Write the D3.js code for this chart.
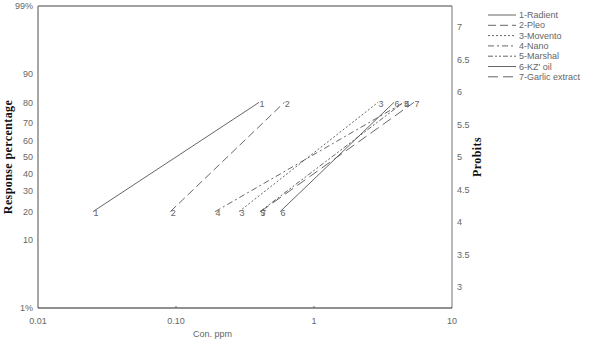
<!DOCTYPE html>
<html>
<head>
<meta charset="utf-8">
<script src="https://cdn.jsdelivr.net/npm/d3@7"></script>
<style>
  body { margin: 0; background: #fff; }
  .tick-label { font-family: "Liberation Sans", Arial, sans-serif; font-size: 9px; fill: #666; }
  .axis-title { font-family: "Liberation Serif", "Times New Roman", serif; font-size: 12px; font-weight: bold; fill: #111; letter-spacing: 0.4px; }
</style>
</head>
<body>
<script>
// Data
var seriesNames = ["1-Radient", "2-Pleo", "3-Movento", "4-Nano", "5-Marshal", "6-KZ' oil", "7-Garlic extract"];
var seriesIds = ["1", "2", "3", "4", "5", "6", "7"];
var responseLevels = [20, 80];               // % response at the two ends of each line
var concAt20 = [0.025, 0.091, 0.286, 0.192, 0.406, 0.568, 0.41];
var concAt80 = [0.40, 0.61, 2.91, 4.49, 4.45, 3.8, 5.3];
var dashes = ["none", "8,4", "2,2", "6,3,2,3", "5,2,2,2,2,2", "none", "10,5"];

var xTicks = [0.01, 0.1, 1, 10];
var xTickLabels = ["0.01", "0.10", "1", "10"];
var pctTicks = [1, 10, 20, 30, 40, 50, 60, 70, 80, 90, 99];
var pctTickLabels = ["1%", "10", "20", "30", "40", "50", "60", "70", "80", "90", "99%"];
var probitTicks = [3, 3.5, 4, 4.5, 5, 5.5, 6, 6.5, 7];

// inverse normal cdf (Acklam), used for the probability axis
function normInv(p) {
    var a = [-39.69683028665376, 220.9460984245205, -275.9285104469687, 138.3577518672690, -30.66479806614716, 2.506628277459239];
    var b = [-54.47609879822406, 161.5858368580409, -155.6989798598866, 66.80131188771972, -13.28068155288572];
    var c = [-0.007784894002430293, -0.3223964580411365, -2.400758277161838, -2.549732539343734, 4.374664141464968, 2.938163982698783];
    var d = [0.007784695709041462, 0.3224671290700398, 2.445134137142996, 3.754408661907416];
    var q, r;
    if (p < 0.02425) {
        q = Math.sqrt(-2 * Math.log(p));
        return (((((c[0]*q+c[1])*q+c[2])*q+c[3])*q+c[4])*q+c[5]) / ((((d[0]*q+d[1])*q+d[2])*q+d[3])*q+1);
    }
    if (p > 1 - 0.02425) {
        q = Math.sqrt(-2 * Math.log(1 - p));
        return -(((((c[0]*q+c[1])*q+c[2])*q+c[3])*q+c[4])*q+c[5]) / ((((d[0]*q+d[1])*q+d[2])*q+d[3])*q+1);
    }
    q = p - 0.5; r = q * q;
    return (((((a[0]*r+a[1])*r+a[2])*r+a[3])*r+a[4])*r+a[5])*q / (((((b[0]*r+b[1])*r+b[2])*r+b[3])*r+b[4])*r+1);
}
function probit(pct) { return 5 + normInv(pct / 100); }

var W = 595, H = 355;
var plotL = 38, plotR = 452, plotT = 6, plotB = 308;

var svg = d3.select("body").append("svg")
    .attr("width", W)
    .attr("height", H);

var x = d3.scaleLog().domain([0.01, 10]).range([plotL, plotR]);
var y = d3.scaleLinear().domain([probit(1), probit(99)]).range([plotB, plotT]);

// frame
svg.append("line").attr("x1", plotL).attr("x2", plotR).attr("y1", plotT).attr("y2", plotT)
    .style("stroke", "#444").style("stroke-width", 1.2);
svg.append("line").attr("x1", plotR).attr("x2", plotR).attr("y1", plotT).attr("y2", plotB)
    .style("stroke", "#888").style("stroke-width", 1.2);
svg.append("line").attr("x1", plotL).attr("x2", plotL).attr("y1", plotT).attr("y2", plotB)
    .style("stroke", "#888").style("stroke-width", 1.5);
svg.append("line").attr("x1", plotL).attr("x2", plotR).attr("y1", plotB).attr("y2", plotB)
    .style("stroke", "#222").style("stroke-width", 1.2);

// x axis
var xAxis = svg.append("g").attr("class", "x-axis");
xAxis.selectAll("line").data(xTicks.slice(1, 3)).enter().append("line")
    .attr("x1", d => x(d)).attr("x2", d => x(d))
    .attr("y1", plotB).attr("y2", plotB - 2)
    .style("stroke", "#666");
xAxis.selectAll("text").data(xTicks).enter().append("text")
    .attr("class", "tick-label")
    .attr("x", d => x(d))
    .attr("y", plotB + 16)
    .attr("text-anchor", "middle")
    .text((d, i) => xTickLabels[i]);

svg.append("text")
    .attr("class", "tick-label")
    .attr("x", 193)
    .attr("y", 337)
    .text("Con. ppm");

// left percentage axis
svg.append("g").selectAll("text").data(pctTicks).enter().append("text")
    .attr("class", "tick-label")
    .attr("x", plotL - 5)
    .attr("y", d => y(probit(d)))
    .attr("dy", "0.35em")
    .attr("text-anchor", "end")
    .text((d, i) => pctTickLabels[i]);

svg.append("text")
    .attr("class", "axis-title")
    .attr("transform", "translate(12," + ((plotT + plotB) / 2) + ") rotate(-90)")
    .attr("text-anchor", "middle")
    .text("Response percentage");

// right probit axis
svg.append("g").selectAll("text").data(probitTicks).enter().append("text")
    .attr("class", "tick-label")
    .attr("x", plotR + 5)
    .attr("y", d => y(d))
    .attr("dy", "0.35em")
    .text(d => d);

svg.append("text")
    .attr("class", "axis-title")
    .attr("transform", "translate(481," + ((plotT + plotB) / 2) + ") rotate(-90)")
    .attr("text-anchor", "middle")
    .text("Probits");

// series lines
var rows = seriesNames.map((name, i) => ({
    name: name, id: seriesIds[i], dash: dashes[i],
    pts: [{c: concAt20[i], p: responseLevels[0]}, {c: concAt80[i], p: responseLevels[1]}]
}));

var lineGen = d3.line().x(d => x(d.c)).y(d => y(probit(d.p)));

var g = svg.append("g").attr("class", "series");
g.selectAll("path").data(rows).enter().append("path")
    .attr("d", d => lineGen(d.pts))
    .style("fill", "none")
    .style("stroke", "#555")
    .style("stroke-width", 0.9)
    .style("stroke-dasharray", d => d.dash);

rows.forEach(function(r) {
    g.selectAll(null).data(r.pts).enter().append("text")
        .attr("class", "tick-label")
        .attr("x", d => x(d.c) + 3)
        .attr("y", d => y(probit(d.p)) + 1)
        .attr("dy", "0.35em")
        .attr("text-anchor", "middle")
        .text(r.id);
});

// legend
var legend = svg.append("g").attr("class", "legend");
legend.selectAll("line").data(rows).enter().append("line")
    .attr("x1", 488).attr("x2", 516)
    .attr("y1", (d, i) => 15 + i * 10.3)
    .attr("y2", (d, i) => 15 + i * 10.3)
    .style("stroke", "#555")
    .style("stroke-width", 0.9)
    .style("stroke-dasharray", d => d.dash);
legend.selectAll("text").data(rows).enter().append("text")
    .attr("class", "tick-label")
    .attr("x", 519)
    .attr("y", (d, i) => 15 + i * 10.3)
    .attr("dy", "0.35em")
    .text(d => d.name);
</script>
</body>
</html>
